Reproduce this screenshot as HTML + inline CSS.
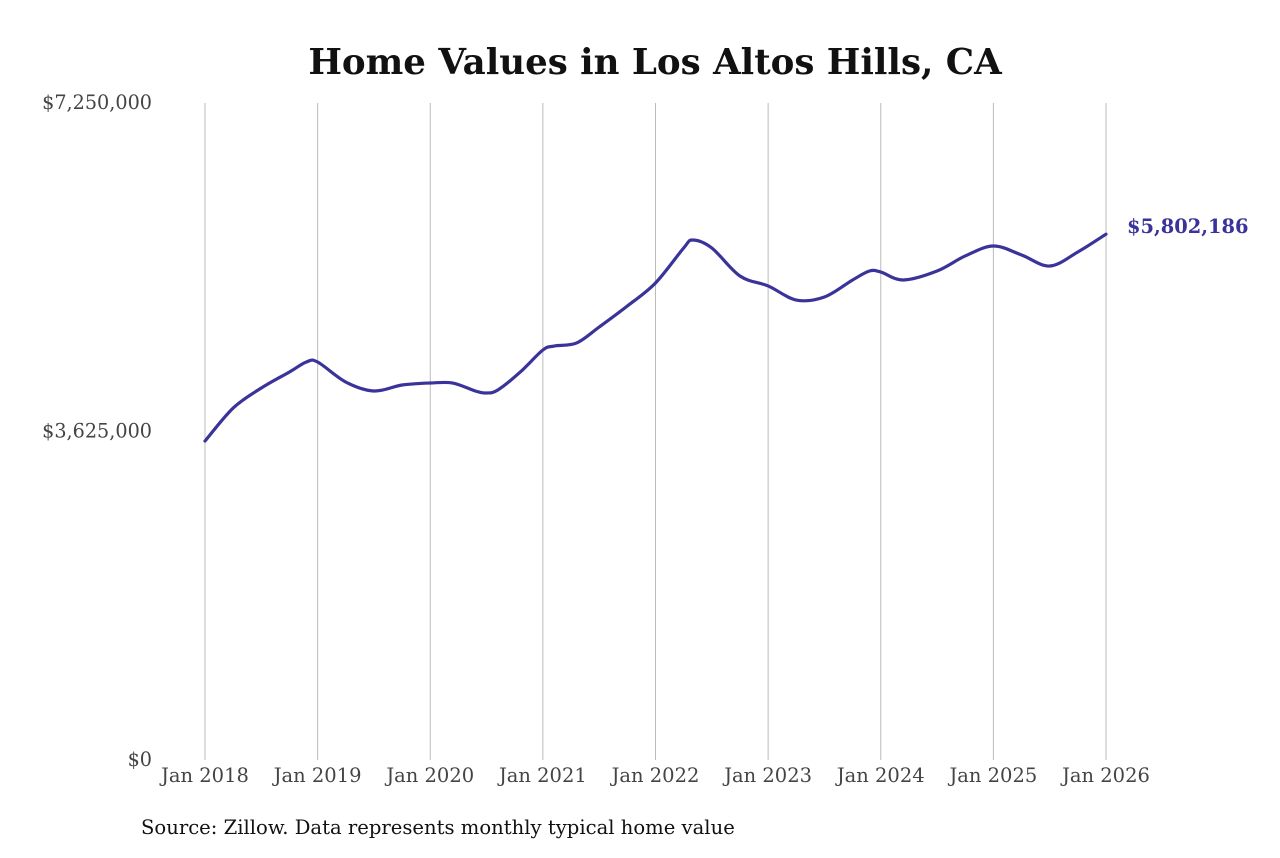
<!DOCTYPE html>
<html><head><meta charset="utf-8"><style>
body{margin:0;background:#fff;width:1280px;height:853px;overflow:hidden}
svg text{font-family:"DejaVu Serif","Liberation Serif",serif}
</style></head><body>
<svg id="chart" width="1280" height="853" viewBox="0 0 1280 853">
<text x="655" y="74" text-anchor="middle" font-size="35.6" font-weight="bold" fill="#111">Home Values in Los Altos Hills, CA</text>
<g id="grid"></g><g id="yaxis"></g><g id="xaxis"></g>
<path id="line" fill="none" stroke="#3a3399" stroke-width="3.2" stroke-linejoin="round" stroke-linecap="round"/>
<text id="endlabel" font-size="19.4" font-weight="bold" fill="#3a3399"></text>
<text x="141" y="834" font-size="19.6" fill="#111">Source: Zillow. Data represents monthly typical home value</text>
</svg>
<script>
const times=[2018.0,2018.25,2018.5,2018.75,2018.9,2019.0,2019.25,2019.5,2019.75,2020.0,2020.2,2020.4,2020.5,2020.6,2020.8,2021.0,2021.1,2021.3,2021.5,2021.75,2022.0,2022.25,2022.33,2022.5,2022.75,2023.0,2023.25,2023.5,2023.75,2023.9,2024.0,2024.2,2024.5,2024.75,2025.0,2025.25,2025.5,2025.75,2026.0];
const values=[3520000,3884000,4105000,4282000,4392000,4392000,4171000,4072000,4138000,4160000,4160000,4072000,4050000,4083000,4282000,4524000,4568000,4602000,4778000,5010000,5264000,5650000,5738000,5650000,5341000,5231000,5076000,5109000,5297000,5396000,5385000,5297000,5396000,5562000,5672000,5573000,5451000,5606000,5802186];
const yTicks=[0,3625000,7250000];
const yTickLabels=["$0","$3,625,000","$7,250,000"];
const xTicks=[2018,2019,2020,2021,2022,2023,2024,2025,2026];
const xTickLabels=["Jan 2018","Jan 2019","Jan 2020","Jan 2021","Jan 2022","Jan 2023","Jan 2024","Jan 2025","Jan 2026"];
const NS="http://www.w3.org/2000/svg";
const x=t=>205+(t-2018)*(1106-205)/8;
const y=v=>760-v*(760-103)/7250000;
function mk(tag,attrs,parent,txt){const e=document.createElementNS(NS,tag);for(const k in attrs)e.setAttribute(k,attrs[k]);if(txt!==undefined)e.textContent=txt;parent.appendChild(e);return e;}
const grid=document.getElementById('grid'),xa=document.getElementById('xaxis'),ya=document.getElementById('yaxis');
xTicks.forEach((t,i)=>{
 const l=mk('line',{x1:x(t),x2:x(t),y1:103,y2:760,stroke:'#bbb','stroke-width':1},grid);
 
 
 const tx=mk('text',{x:x(t),y:782,'text-anchor':'middle','font-size':19.5,fill:'#444'},xa,xTickLabels[i]);
 
 
});
yTicks.forEach((v,i)=>{
 const tx=mk('text',{x:152,y:y(v)+6,'text-anchor':'end','font-size':19.2,fill:'#444'},ya,yTickLabels[i]);
 
 
});
const P=times.map((t,i)=>[x(t),y(values[i])]);
let d='M'+P[0][0]+','+P[0][1];
for(let i=0;i<P.length-1;i++){
 const p0=P[Math.max(0,i-1)],p1=P[i],p2=P[i+1],p3=P[Math.min(P.length-1,i+2)];
 const c1=[p1[0]+(p2[0]-p0[0])/6,p1[1]+(p2[1]-p0[1])/6],c2=[p2[0]-(p3[0]-p1[0])/6,p2[1]-(p3[1]-p1[1])/6];
 d+=` C${c1[0]},${c1[1]} ${c2[0]},${c2[1]} ${p2[0]},${p2[1]}`;
}
document.getElementById('line').setAttribute('d',d);
const last=values[values.length-1],el=document.getElementById('endlabel');
el.setAttribute('x',x(times[times.length-1])+21);
el.setAttribute('y',y(last)-1);
el.textContent='$'+Math.round(last).toLocaleString('en-US');
</script>
</body></html>
